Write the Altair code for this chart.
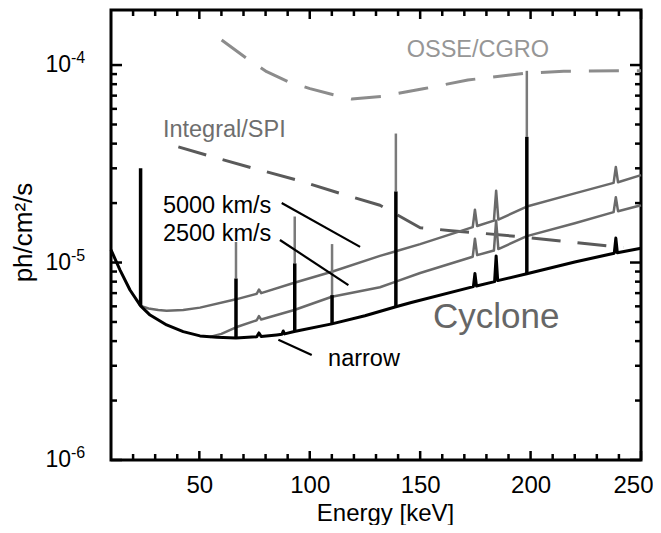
import altair as alt
import pandas as pd

FONT = "Liberation Sans"

# ---------------- data ----------------
# narrow-line sensitivity (black), continuum + small peaks
narrow_E = [10, 14.1, 18.6, 23.4, 27.7, 35.2, 42.7, 50.3, 57.9, 66.6, 76, 77, 78, 85,
            87.4, 88, 88.6, 93, 110, 125, 139, 146, 174.1, 174.8, 175.5, 183.7, 184.4,
            185.1, 198.3, 220, 237.9, 238.6, 239.3, 250]
narrow_v = [1.16e-5, 9.16e-6, 7.26e-6, 6.03e-6, 5.42e-6, 4.83e-6, 4.47e-6, 4.25e-6,
            4.18e-6, 4.15e-6, 4.21e-6, 4.4e-6, 4.22e-6, 4.3e-6, 4.33e-6, 4.5e-6, 4.35e-6,
            4.47e-6, 4.89e-6, 5.38e-6, 5.97e-6, 6.27e-6, 7.55e-6, 8.8e-6, 7.6e-6, 8.0e-6,
            1.08e-5, 8.1e-6, 8.77e-6, 1.007e-5, 1.115e-5, 1.33e-5, 1.12e-5, 1.18e-5]

# 2500 km/s broadened lines (grey)
b2500_E = [54.8, 60, 66.6, 76, 77, 78, 93, 110, 131.8, 139, 150, 173.8, 174.8, 175.8,
           183.4, 184.4, 185.4, 198.3, 220, 237.6, 238.6, 239.6, 250]
b2500_v = [4.2e-6, 4.35e-6, 4.7e-6, 5.1e-6, 5.35e-6, 5.15e-6, 5.75e-6, 6.71e-6, 7.5e-6,
           8.0e-6, 8.85e-6, 1.07e-5, 1.32e-5, 1.09e-5, 1.15e-5, 1.63e-5, 1.17e-5,
           1.36e-5, 1.58e-5, 1.80e-5, 2.14e-5, 1.82e-5, 1.95e-5]

# 5000 km/s broadened lines (grey)
b5000_E = [23.4, 27, 31.4, 35.2, 42.7, 50.3, 66.6, 76, 77, 78, 93, 110, 131.8, 139, 150,
           173.8, 174.8, 175.8, 183.4, 184.4, 185.4, 198.3, 220, 237.6, 238.6, 239.6, 250]
b5000_v = [6.03e-6, 5.85e-6, 5.75e-6, 5.7e-6, 5.75e-6, 5.91e-6, 6.51e-6, 6.95e-6, 7.3e-6,
           7.0e-6, 7.9e-6, 8.98e-6, 1.08e-5, 1.14e-5, 1.24e-5, 1.51e-5, 1.85e-5, 1.53e-5,
           1.63e-5, 2.31e-5, 1.65e-5, 1.92e-5, 2.24e-5, 2.53e-5, 3.05e-5, 2.55e-5, 2.77e-5]

# Integral/SPI (dashed)
spi_E = [40.5, 53.3, 74.5, 94.1, 113.7, 131.8, 150, 164, 177, 198.3, 242]
spi_v = [3.85e-5, 3.5e-5, 3.0e-5, 2.62e-5, 2.24e-5, 1.95e-5, 1.5e-5, 1.45e-5, 1.41e-5,
         1.34e-5, 1.19e-5]

# OSSE/CGRO (dashed)
osse_E = [60.1, 71.5, 80.5, 90.3, 100.1, 110.7, 119, 132.6, 152, 171.6, 198, 215, 250]
osse_v = [1.34e-4, 1.08e-4, 9.25e-5, 8.23e-5, 7.6e-5, 7.07e-5, 6.73e-5, 6.94e-5, 7.6e-5,
          8.4e-5, 9.1e-5, 9.3e-5, 9.37e-5]

# strong narrow lines: energy, base, black top, grey top
line_E = [23.4, 66.6, 93.2, 110.1, 139, 198.3]
line_base = [6.03e-6, 4.15e-6, 4.47e-6, 4.89e-6, 5.97e-6, 8.77e-6]
line_black_top = [3.0e-5, 8.3e-6, 9.9e-6, 6.84e-6, 2.29e-5, 4.33e-5]
line_grey_top = [3.0e-5, 1.27e-5, 1.71e-5, 1.24e-5, 4.5e-5, 9.35e-5]

# annotation pointer lines
ptr_E1 = [87.3, 86.5, 85.8]
ptr_v1 = [2.0e-5, 1.30e-5, 4.06e-6]
ptr_E2 = [122.8, 117.5, 100.9]
ptr_v2 = [1.2e-5, 7.69e-6, 3.4e-6]

# labels
lab_text = ["Integral/SPI", "5000 km/s", "2500 km/s", "narrow", "OSSE/CGRO"]
lab_E = [33.5, 33.5, 33.5, 108.3, 143.9]
lab_v = [4.31e-5, 1.78e-5, 1.28e-5, 2.99e-6, 1.10e-4]
lab_color = ["#6e6e6e", "#000000", "#000000", "#000000", "#969696"]
cyc_text = ["Cyclone"]
cyc_E = [155.8]
cyc_v = [4.65e-6]

# axes
x_major = [50, 100, 150, 200, 250]
x_minor = [20, 30, 40, 60, 70, 80, 90, 110, 120, 130, 140, 160, 170, 180, 190,
           210, 220, 230, 240]
y_major = [1e-6, 1e-5, 1e-4]
y_exp = ["-6", "-5", "-4"]
y_minor = [2e-6, 3e-6, 4e-6, 5e-6, 6e-6, 7e-6, 8e-6, 9e-6,
           2e-5, 3e-5, 4e-5, 5e-5, 6e-5, 7e-5, 8e-5, 9e-5]

W, H = 530, 450
xs = alt.Scale(domain=[10, 250], nice=False, zero=False)
ys = alt.Scale(type="log", domain=[1e-6, 1.9e-4], nice=False)

AX = alt.Axis(values=x_major, ticks=False, domain=False, grid=False, labelFlush=True,
              labelFlushOffset=12,
              labelFont=FONT, labelFontSize=24, labelColor="#000", labelPadding=13,
              title="Energy [keV]", titleFont=FONT, titleFontSize=24,
              titleFontWeight="normal", titleColor="#000", titleX=274, titleY=60,
              titleAlign="center", titleBaseline="alphabetic")
AY = alt.Axis(labels=False, ticks=False, domain=False, grid=False,
              title="ph/cm²/s", titleFont=FONT, titleFontSize=26,
              titleFontWeight="normal", titleColor="#000", titleX=-80, titleY=222,
              titleAngle=-90, titleAlign="center", titleBaseline="alphabetic")


def X(field="E"):
    return alt.X(f"{field}:Q", scale=xs, axis=AX)


def Y(field="v"):
    return alt.Y(f"{field}:Q", scale=ys, axis=AY)


def curve(E, v, color, width, dash=None):
    mk = dict(color=color, strokeWidth=width, strokeJoin="round", strokeCap="butt")
    if dash:
        mk["strokeDash"] = dash
    df = pd.DataFrame({"E": E, "v": v})
    return alt.Chart(df).mark_line(**mk).encode(x=X(), y=Y(), order="E:Q")


osse = curve(osse_E, osse_v, "#8c8c8c", 3, [30, 18])
spi = curve(spi_E, spi_v, "#5a5a5a", 3, [29, 17])
g5000 = curve(b5000_E, b5000_v, "#6a6a6a", 2.5)
g2500 = curve(b2500_E, b2500_v, "#6a6a6a", 2.5)
narrow = curve(narrow_E, narrow_v, "#000000", 3)

lines_df = pd.DataFrame({"E": line_E, "base": line_base, "btop": line_black_top,
                         "gtop": line_grey_top})
grey_spikes = alt.Chart(lines_df).mark_rule(color="#7a7a7a", strokeWidth=2.5).encode(
    x=X(), y=Y("btop"), y2="gtop:Q")
black_spikes = alt.Chart(lines_df).mark_rule(color="#000", strokeWidth=3.5).encode(
    x=X(), y=Y("base"), y2="btop:Q")

ptr_df = pd.DataFrame({"E1": ptr_E1, "v1": ptr_v1, "E2": ptr_E2, "v2": ptr_v2})
pointers = alt.Chart(ptr_df).mark_rule(color="#000", strokeWidth=2.2).encode(
    x=X("E1"), y=Y("v1"), x2="E2:Q", y2="v2:Q")

lab_df = pd.DataFrame({"t": lab_text, "E": lab_E, "v": lab_v, "c": lab_color})
labels = alt.Chart(lab_df).mark_text(align="left", baseline="alphabetic", font=FONT,
                                     fontSize=23.5).encode(
    x=X(), y=Y(), text="t:N", color=alt.Color("c:N", scale=None))
cyc_df = pd.DataFrame({"t": cyc_text, "E": cyc_E, "v": cyc_v})
cyclone = alt.Chart(cyc_df).mark_text(align="left", baseline="alphabetic", font=FONT,
                                      fontSize=35, color="#666666").encode(
    x=X(), y=Y(), text="t:N")

# inward ticks on all four sides
xt = pd.DataFrame({"E": x_major + x_minor,
                   "major": [1] * len(x_major) + [0] * len(x_minor)})
yt = pd.DataFrame({"v": y_major + y_minor,
                   "major": [1] * len(y_major) + [0] * len(y_minor)})
tk = dict(color="#000", strokeWidth=2.5)
MAJ = "datum.major == 1"
MIN = "datum.major == 0"
ticks = [
    alt.Chart(xt).transform_filter(MAJ).mark_rule(**tk).encode(
        x=X(), y=alt.value(H), y2=alt.value(H - 9)),
    alt.Chart(xt).transform_filter(MIN).mark_rule(**tk).encode(
        x=X(), y=alt.value(H), y2=alt.value(H - 6)),
    alt.Chart(xt).transform_filter(MAJ).mark_rule(**tk).encode(
        x=X(), y=alt.value(0), y2=alt.value(9)),
    alt.Chart(xt).transform_filter(MIN).mark_rule(**tk).encode(
        x=X(), y=alt.value(0), y2=alt.value(6)),
    alt.Chart(yt).transform_filter(MAJ).mark_rule(**tk).encode(
        y=Y(), x=alt.value(0), x2=alt.value(11)),
    alt.Chart(yt).transform_filter(MIN).mark_rule(**tk).encode(
        y=Y(), x=alt.value(0), x2=alt.value(6)),
    alt.Chart(yt).transform_filter(MAJ).mark_rule(**tk).encode(
        y=Y(), x=alt.value(W), x2=alt.value(W - 11)),
    alt.Chart(yt).transform_filter(MIN).mark_rule(**tk).encode(
        y=Y(), x=alt.value(W), x2=alt.value(W - 6)),
]

ymaj = pd.DataFrame({"v": y_major, "e": y_exp})
ylab10 = alt.Chart(ymaj).mark_text(align="right", baseline="alphabetic", font=FONT,
                                   fontSize=23, dy=7, color="#000").encode(
    y=Y(), x=alt.value(-40), text=alt.value("10"))
ylabexp = alt.Chart(ymaj).mark_text(align="left", baseline="alphabetic", font=FONT,
                                    fontSize=16, dy=-2, color="#000").encode(
    y=Y(), x=alt.value(-40), text="e:N")

chart = alt.layer(
    osse, spi, g5000, g2500, grey_spikes, narrow, black_spikes, pointers, labels,
    cyclone, *ticks, ylab10, ylabexp
).properties(
    width=W, height=H,
    autosize=alt.AutoSizeParams(type="none"),
    padding={"left": 103, "top": 2, "right": 12, "bottom": 65},
).configure_view(stroke="#000", strokeWidth=3)

chart.save("out.html", embed_options={"renderer": "svg", "actions": False})
